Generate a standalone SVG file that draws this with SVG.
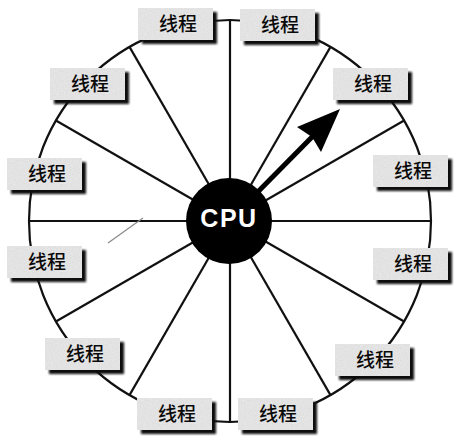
<svg xmlns="http://www.w3.org/2000/svg" width="468" height="446" viewBox="0 0 468 446">
<style>
.spoke{stroke:#111;stroke-width:2.2;fill:none}
.ring{stroke:#111;stroke-width:2.2;fill:none}
.shadow{fill:#111;filter:url(#blur)}
.face{fill:#e2e2e2;filter:url(#grain)}
.lbl{font-family:"Noto Sans CJK SC","Noto Sans CJK JP",sans-serif;font-size:19px;font-weight:500;fill:#0a0a0a;text-anchor:middle}
.cpu{font-family:"Liberation Sans",Arial,sans-serif;font-weight:bold;font-size:25px;fill:#fff;text-anchor:middle;letter-spacing:1.5px}
</style>
<defs>
<filter id="blur" x="-10%" y="-20%" width="120%" height="140%"><feGaussianBlur stdDeviation="0.9"/></filter>
<filter id="grain" x="0" y="0" width="100%" height="100%">
<feTurbulence type="fractalNoise" baseFrequency="0.9" numOctaves="2" seed="3" result="n"/>
<feColorMatrix in="n" type="matrix" values="0.33 0.33 0.33 0 0  0.33 0.33 0.33 0 0  0.33 0.33 0.33 0 0  0 0 0 0 1" result="g"/>
<feComposite in="SourceGraphic" in2="g" operator="arithmetic" k1="0" k2="1" k3="0.25" k4="-0.12" result="m"/>
<feComposite in="m" in2="SourceGraphic" operator="in"/>
</filter>
<g id="box">
<rect class="shadow" x="4" y="4" width="75" height="32"/>
<rect class="face" x="0" y="0" width="75" height="32"/>
</g>
</defs>
<rect width="468" height="446" fill="#fff"/>
<g id="connectors">
<circle class="ring" cx="230" cy="221" r="201"/>
<line class="spoke" x1="230" y1="221" x2="431" y2="221"/>
<line class="spoke" x1="230" y1="221" x2="404.1" y2="120.5"/>
<line class="spoke" x1="230" y1="221" x2="330.5" y2="46.9"/>
<line class="spoke" x1="230" y1="221" x2="230" y2="20"/>
<line class="spoke" x1="230" y1="221" x2="129.5" y2="46.9"/>
<line class="spoke" x1="230" y1="221" x2="55.9" y2="120.5"/>
<line class="spoke" x1="230" y1="221" x2="29" y2="221"/>
<line class="spoke" x1="230" y1="221" x2="55.9" y2="321.5"/>
<line class="spoke" x1="230" y1="221" x2="129.5" y2="395.1"/>
<line class="spoke" x1="230" y1="221" x2="230" y2="422"/>
<line class="spoke" x1="230" y1="221" x2="330.5" y2="395.1"/>
<line class="spoke" x1="230" y1="221" x2="404.1" y2="321.5"/>
<line x1="108" y1="243" x2="143" y2="218" stroke="#8a8a8a" stroke-width="1.2"/>
<line x1="236" y1="214" x2="313" y2="136" stroke="#000" stroke-width="5"/>
<polygon points="340,109 297,127 312,137 321,152" fill="#000"/>
</g>
<g id="cpu">
<circle cx="229" cy="221" r="43" fill="#000"/>
<text class="cpu" x="229" y="227">CPU</text>
</g>
<g id="t1"><use href="#box" x="138" y="8"/><text class="lbl" x="178" y="31">线程</text></g>
<g id="t2"><use href="#box" x="240" y="9"/><text class="lbl" x="280" y="32">线程</text></g>
<g id="t3"><use href="#box" x="333" y="68"/><text class="lbl" x="373" y="91">线程</text></g>
<g id="t4"><use href="#box" x="373" y="155"/><text class="lbl" x="413" y="178">线程</text></g>
<g id="t5"><use href="#box" x="373" y="248"/><text class="lbl" x="413" y="271">线程</text></g>
<g id="t6"><use href="#box" x="335" y="344"/><text class="lbl" x="375" y="367">线程</text></g>
<g id="t7"><use href="#box" x="238" y="398"/><text class="lbl" x="278" y="421">线程</text></g>
<g id="t8"><use href="#box" x="137" y="398"/><text class="lbl" x="177" y="421">线程</text></g>
<g id="t9"><use href="#box" x="45" y="338"/><text class="lbl" x="85" y="361">线程</text></g>
<g id="t10"><use href="#box" x="7" y="246"/><text class="lbl" x="47" y="269">线程</text></g>
<g id="t11"><use href="#box" x="7" y="158"/><text class="lbl" x="47" y="181">线程</text></g>
<g id="t12"><use href="#box" x="50" y="68"/><text class="lbl" x="90" y="91">线程</text></g>
</svg>
